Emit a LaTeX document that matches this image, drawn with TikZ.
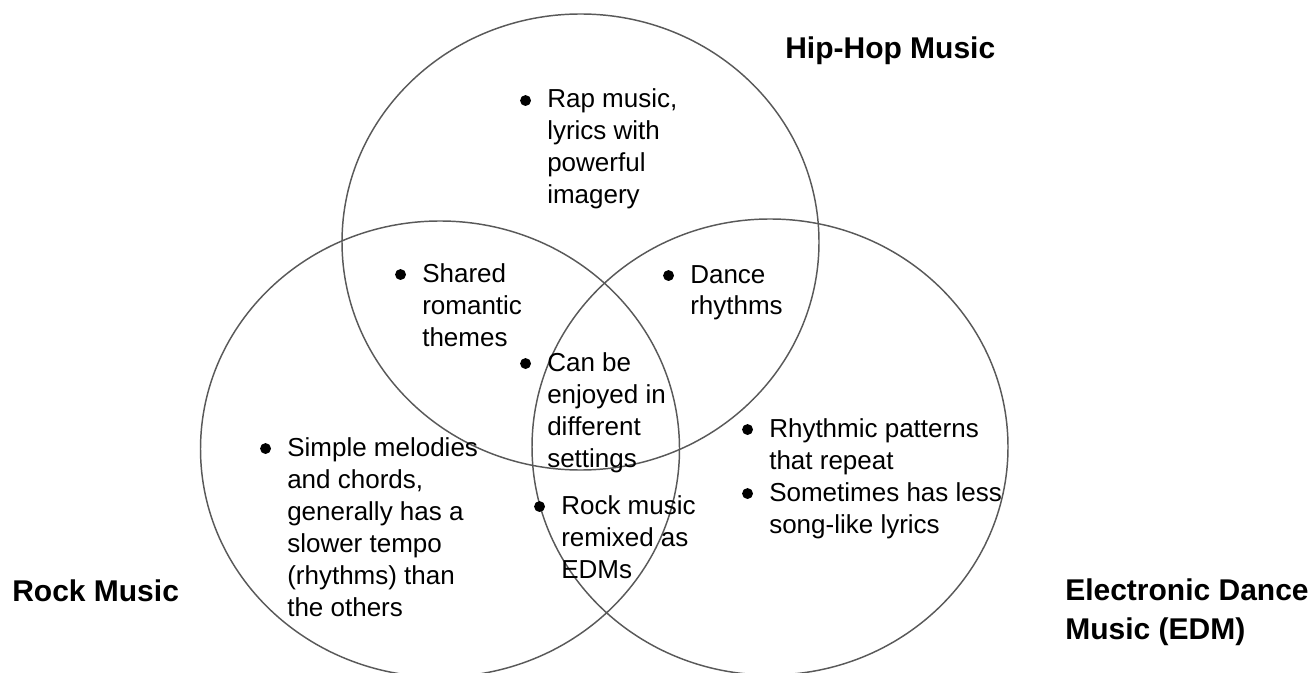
\documentclass[tikz,border=0pt]{standalone}
\usepackage{fontspec}
\setmainfont{Liberation Sans}

% lines of one point, left aligned, first baseline on top
\newcommand{\pts}[1]{\begin{tabular}[t]{@{}l@{}}#1\end{tabular}}
% bullet in front of a text node (y axis is flipped)
\newcommand{\bul}[1]{\fill ([xshift=-16.1pt,yshift=-5.6pt]#1.base west) circle (4.1pt);}

\begin{document}
\begin{tikzpicture}[x=0.75pt,y=0.75pt,yscale=-1,xscale=1,
  ring/.style={draw={rgb, 255:red, 89; green, 89; blue, 89 }, line width=1.1pt},
  txt/.style={font=\fontsize{19.5}{24}\selectfont, anchor=base west, inner sep=0pt},
  head/.style={font=\fontsize{22.5}{29.3}\selectfont\bfseries, anchor=base west, inner sep=0pt}]
\useasboundingbox (0,0) rectangle (1308,673);

%Circles
\draw [ring] (580.5,242) ellipse [x radius=238.5, y radius=228];
\draw [ring] (440,449) ellipse [x radius=239.5, y radius=228];
\draw [ring] (770,447) ellipse [x radius=238, y radius=228];

% Titles
\node [head] (hiphop) at (785,59) {Hip-Hop Music};
\node [head] (rock) at (12,601) {Rock Music};
\node [head] (edm) at (1065,600) {\pts{Electronic Dance\\Music (EDM)}};

% Hip-hop only
\node [txt] (rap) at (547,108) {\pts{Rap music,\\lyrics with\\powerful\\imagery}};
\bul{rap}
% Hip-hop and rock
\node [txt] (shared) at (422,282) {\pts{Shared\\romantic\\themes}};
\bul{shared}
% Hip-hop and EDM
\node [txt] (dance) at (690,283) {\pts{Dance\\rhythms}};
\bul{dance}
% All three
\node [txt] (enjoy) at (547,371) {\pts{Can be\\enjoyed in\\different\\settings}};
\bul{enjoy}
% Rock only
\node [txt] (simple) at (287,456) {\pts{Simple melodies\\and chords,\\generally has a\\slower tempo\\(rhythms) than\\the others}};
\bul{simple}
% Rock and EDM
\node [txt] (remix) at (561,514) {\pts{Rock music\\remixed as\\EDMs}};
\bul{remix}
% EDM only
\node [txt] (pattern) at (769,437) {\pts{Rhythmic patterns\\that repeat}};
\bul{pattern}
\node [txt] (lyrics) at (769,501) {\pts{Sometimes has less\\song-like lyrics}};
\bul{lyrics}

\end{tikzpicture}
\end{document}
